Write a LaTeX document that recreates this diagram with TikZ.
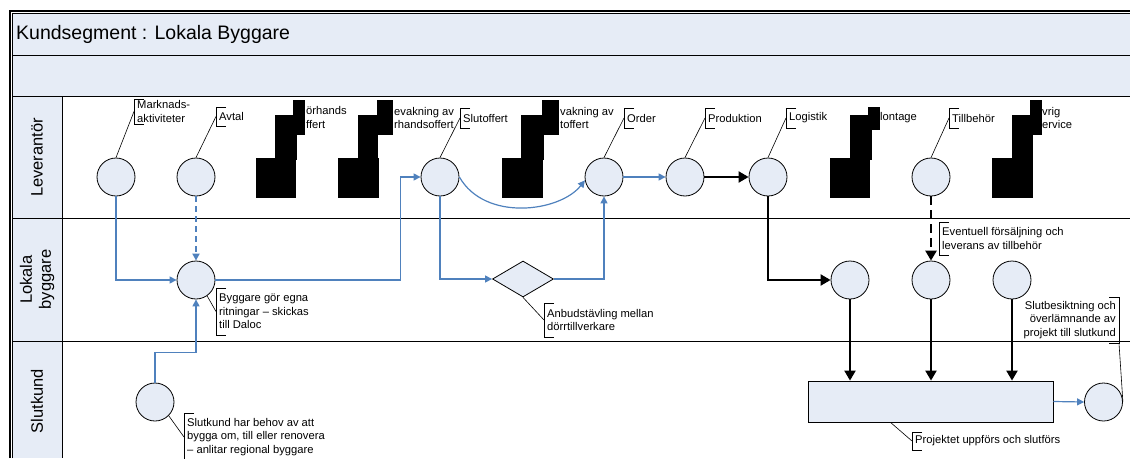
\documentclass[tikz,border=0pt]{standalone}
\usepackage{fontspec}
\setmainfont{Liberation Sans}
\usetikzlibrary{arrows.meta,shapes.geometric}

\definecolor{paleblue}{RGB}{230,236,246}
\definecolor{flowblue}{RGB}{79,129,189}

\newcommand\notefont{\fontsize{11.2}{13.6}\selectfont}
\newcommand\lanefont{\fontsize{16.5}{19}\selectfont}
\newcommand\titlefont{\fontsize{19.5}{23}\selectfont}

% bracket on the left / right side of a note node
\newcommand\lbrk[1]{\draw[brk] ([xshift=10pt]#1.north west) -| (#1.south west) -- ++(10pt,0);}
\newcommand\rbrk[1]{\draw[brk] ([xshift=-10pt]#1.north east) -| (#1.south east) -- ++(-10pt,0);}

\begin{document}
\begin{tikzpicture}[x=1pt,y=-1pt,
  evt/.style={circle,draw,fill=paleblue,minimum size=38pt,inner sep=0pt,line width=0.8pt},
  gate/.style={diamond,draw,fill=paleblue,minimum width=61pt,minimum height=36pt,inner sep=0pt,line width=0.8pt},
  task/.style={rectangle,draw,fill=paleblue,minimum width=245pt,minimum height=41pt,inner sep=0pt,line width=0.8pt},
  note/.style={font=\notefont,align=left,anchor=west,inner xsep=3pt,inner ysep=0pt,minimum height=#1},
  noter/.style={font=\notefont,align=right,anchor=east,inner xsep=3pt,inner ysep=0pt,minimum height=#1},
  part/.style={font=\notefont,align=left,anchor=west,inner sep=0pt},
  brk/.style={line width=0.6pt},
  leader/.style={line width=0.6pt},
  bl/.style={draw=flowblue,line width=1.2pt,-{Triangle[length=7pt,width=7pt]}},
  bldash/.style={bl,line width=2pt,dash pattern=on 6pt off 4pt},
  bk/.style={draw=black,line width=2pt,-{Triangle[length=10pt,width=11pt]}},
  bkdash/.style={bk,line width=2.5pt,dash pattern=on 9pt off 5pt},
  lane/.style={font=\lanefont,rotate=90,align=center},
  redact/.style={fill=black}
]
\useasboundingbox (0,0) rectangle (1130,458);

% ---- frame, header bands and lanes ----
\fill[paleblue] (12.5,13.5) rectangle (1130,96);
\fill[paleblue] (12.5,96) rectangle (62,458);
\draw[line width=0.8pt] (12.5,55) -- (1130,55);
\draw[line width=0.8pt] (12.5,96) -- (1130,96);
\draw[line width=0.8pt] (12.5,218) -- (1130,218);
\draw[line width=0.8pt] (12.5,341) -- (1130,341);
\draw[line width=0.8pt] (62,96) -- (62,458);
\draw[line width=2pt] (9.5,458) |- (1130,10.5);
\draw[line width=0.8pt] (12.5,458) |- (1130,13.5);

\node[font=\titlefont,anchor=west,inner sep=0pt] (title) at (16,34) {Kundsegment : Lokala Byggare};

\node[lane] (lane1) at (37,157.5) {Leverantör};
\node[lane] (lane2) at (37,279.5) {Lokala\\byggare};
\node[lane] (lane3) at (37,401) {Slutkund};

% ---- events ----
\node[evt] (m1) at (116,177) {};
\node[evt] (m2) at (196,177) {};
\node[evt] (m3) at (440,177) {};
\node[evt] (m4) at (604,177) {};
\node[evt] (m5) at (685,177) {};
\node[evt] (m6) at (768,177) {};
\node[evt] (m7) at (931,177) {};

\node[evt] (b1) at (196,280) {};
\node[gate] (d) at (523,279) {};
\node[evt] (b2) at (850,280) {};
\node[evt] (b3) at (931,280) {};
\node[evt] (b4) at (1012,280) {};

\node[evt] (s1) at (155,402) {};
\node[task] (r) at (930.5,401.5) {};
\node[evt] (s2) at (1103.5,402) {};

% ---- notes ----
\node[note=25] (l1) at (134,111.5) {Marknads-\\aktiviteter};
\node[note=19] (l2) at (216,116.5) {Avtal};
\node[note=20] (l3) at (460,118) {Slutoffert};
\node[note=20] (l4) at (624,118) {Order};
\node[note=20] (l5) at (705,118) {Produktion};
\node[note=20] (l6) at (786,118) {Logistik};
\node[note=20] (l7) at (949,118) {Tillbehör};
\foreach \n in {l1,l2,l3,l4,l5,l6,l7} {\lbrk{\n}}

\node[note=47] (l8) at (216,311.5) {Byggare gör egna\\ritningar -- skickas\\till Daloc};
\node[note=34] (l9) at (544,320) {Anbudstävling mellan\\dörrtillverkare};
\node[note=48] (l10) at (184,437) {Slutkund har behov av att\\bygga om, till eller renovera\\-- anlitar regional byggare};
\node[note=33] (l11) at (939,238.5) {Eventuell försäljning och\\leverans av tillbehör};
\node[note=18] (l13) at (912,441) {Projektet uppförs och slutförs};
\node[noter=46] (l12) at (1119,320) {Slutbesiktning och\\överlämnande av\\projekt till slutkund};
\foreach \n in {l8,l9,l10,l11,l13} {\lbrk{\n}}
\rbrk{l12}

\draw[leader] (m1.north) -- (l1.west);
\draw[leader] (m2.north) -- (l2.west);
\draw[leader] (m3.north) -- (l3.west);
\draw[leader] (m4.north) -- (l4.west);
\draw[leader] (m5.north) -- (l5.west);
\draw[leader] (m6.north) -- (l6.west);
\draw[leader] (m7.north) -- (l7.west);
\draw[leader] (b1.-55) -- (l8.west);
\draw[leader] (d.south) -- (l9.west);
\draw[leader] (s1.-45) -- (l10.west);
\draw[leader] ([xshift=-40pt]r.south) -- (l13.west);
\draw[leader] (l12.south east) -- (s2.east);

% ---- partly hidden notes ----
\node[part] (p1) at (306,117.5) {örhands\\ffert};
\node[part] (p2) at (394,118) {evakning av\\rhandsoffert};
\node[part] (p3) at (560,118) {vakning av\\toffert};
\node[part] (p4) at (880,118) {lontage};
\node[part] (p5) at (1042,118) {vrig\\ervice};

% ---- flows ----
\draw[bl] (m1.south) |- (b1.west);
\draw[bldash] (m2.south) -- (b1.north);
\draw[bl] (b1.east) -| ([xshift=-20pt]m3.west) -- (m3.west);
\draw[bl] (m3.south) |- (d.west);
\draw[bl] (d.east) -| (m4.south);
\draw[bl] (m3.east) .. controls (485,222) and (560,212) .. (m4.190);
\draw[bl] (m4.east) -- (m5.west);
\draw[bk] (m5.east) -- (m6.west);
\draw[bk] (m6.south) |- (b2.west);
\draw[bkdash] (m7.south) -- (b3.north);
\draw[bk] (b2.south) -- (b2.south |- r.north);
\draw[bk] (b3.south) -- (b3.south |- r.north);
\draw[bk] (b4.south) -- (b4.south |- r.north);
\draw[bl] (r.east) -- (s2.west);
\draw[bl] (s1.north) |- ([yshift=-53pt]b1.south) -- (b1.south);

% ---- blacked-out areas ----
\fill[redact] (256,158) rectangle (296,198);
\fill[redact] (275,115) rectangle (297,160);
\fill[redact] (293,100) rectangle (305,135);
\fill[redact] (338,158) rectangle (379,198);
\fill[redact] (358,115) rectangle (378,160);
\fill[redact] (377,100) rectangle (393,135);
\fill[redact] (502,158) rectangle (543,198);
\fill[redact] (521,115) rectangle (544,160);
\fill[redact] (542,100) rectangle (559,135);
\fill[redact] (830,158) rectangle (870,198);
\fill[redact] (850,115) rectangle (872,160);
\fill[redact] (868,107) rectangle (880,130);
\fill[redact] (992,158) rectangle (1033,198);
\fill[redact] (1012,115) rectangle (1033,160);
\fill[redact] (1030,100) rectangle (1042,135);
\end{tikzpicture}
\end{document}
